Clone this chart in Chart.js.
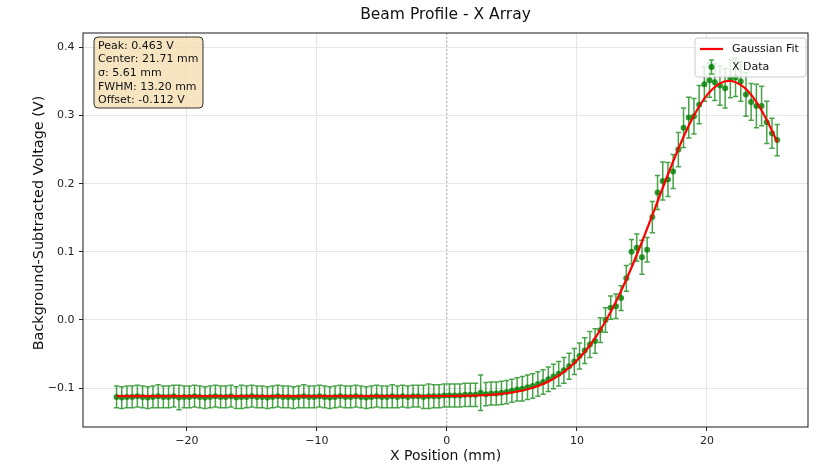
<!DOCTYPE html>
<html><head><meta charset="utf-8">
<script src="https://cdn.jsdelivr.net/npm/chart.js@4.4.0/dist/chart.umd.min.js"></script>
<style>html,body{margin:0;padding:0;background:#fff;}canvas{display:block;}</style>
</head><body>
<canvas id="c" width="816" height="468"></canvas>
<script>
const TITLE = 'Beam Profile - X Array';
const X_LABEL = 'X Position (mm)';
const Y_LABEL = 'Background-Subtracted Voltage (V)';
const LEGEND_LABELS = ['Gaussian Fit', 'X Data'];
const FIT_INFO = ['Peak: 0.463 V', 'Center: 21.71 mm', 'σ: 5.61 mm', 'FWHM: 13.20 mm', 'Offset: -0.112 V'];

const X_POS = [
-25.4,-25.0,-24.6,-24.2,-23.8,-23.4,-23.0,-22.6,-22.2,-21.8,
-21.4,-21.0,-20.6,-20.2,-19.8,-19.4,-19.0,-18.6,-18.2,-17.8,
-17.4,-17.0,-16.6,-16.2,-15.8,-15.4,-15.0,-14.6,-14.2,-13.8,
-13.4,-13.0,-12.6,-12.2,-11.8,-11.4,-11.0,-10.6,-10.2,-9.8,
-9.4,-9.0,-8.6,-8.2,-7.8,-7.4,-7.0,-6.6,-6.2,-5.8,
-5.4,-5.0,-4.6,-4.2,-3.8,-3.4,-3.0,-2.6,-2.2,-1.8,
-1.4,-1.0,-0.6,-0.2,0.2,0.6,1.0,1.4,1.8,2.2,
2.6,3.0,3.4,3.8,4.2,4.6,5.0,5.4,5.8,6.2,
6.6,7.0,7.4,7.8,8.2,8.6,9.0,9.4,9.8,10.2,
10.6,11.0,11.4,11.8,12.2,12.6,13.0,13.4,13.8,14.2,
14.6,15.0,15.4,15.8,16.2,16.6,17.0,17.4,17.8,18.2,
18.6,19.0,19.4,19.8,20.2,20.6,21.0,21.4,21.8,22.2,
22.6,23.0,23.4,23.8,24.2,24.6,25.0,25.4];

const X_VOLT = [
-0.113,-0.114,-0.113,-0.113,-0.112,-0.113,-0.114,-0.113,-0.112,-0.113,
-0.113,-0.112,-0.114,-0.113,-0.113,-0.112,-0.113,-0.114,-0.113,-0.112,
-0.113,-0.113,-0.112,-0.114,-0.113,-0.113,-0.112,-0.113,-0.113,-0.114,
-0.113,-0.112,-0.113,-0.113,-0.114,-0.113,-0.112,-0.113,-0.113,-0.112,
-0.113,-0.114,-0.113,-0.112,-0.113,-0.113,-0.112,-0.113,-0.114,-0.113,
-0.112,-0.113,-0.113,-0.112,-0.113,-0.112,-0.113,-0.112,-0.112,-0.113,
-0.112,-0.112,-0.112,-0.111,-0.111,-0.111,-0.111,-0.110,-0.110,-0.110,
-0.107,-0.109,-0.108,-0.108,-0.107,-0.106,-0.104,-0.102,-0.101,-0.099,
-0.097,-0.094,-0.091,-0.087,-0.083,-0.079,-0.074,-0.068,-0.061,-0.053,
-0.045,-0.036,-0.031,-0.015,0.000,0.018,0.020,0.032,0.061,0.100,
0.106,0.092,0.103,0.151,0.187,0.204,0.206,0.218,0.250,0.282,
0.297,0.299,0.316,0.346,0.352,0.349,0.344,0.340,0.354,0.356,
0.350,0.331,0.320,0.314,0.314,0.290,0.274,0.264];

const X_ERR = [
0.016,0.016,0.016,0.016,0.016,0.016,0.016,0.016,0.017,0.016,
0.016,0.016,0.018,0.016,0.016,0.016,0.016,0.016,0.016,0.016,
0.016,0.016,0.016,0.016,0.017,0.016,0.016,0.016,0.016,0.016,
0.016,0.016,0.016,0.016,0.016,0.016,0.017,0.016,0.016,0.016,
0.016,0.016,0.016,0.016,0.016,0.016,0.016,0.016,0.016,0.016,
0.016,0.016,0.016,0.017,0.016,0.016,0.016,0.016,0.016,0.017,
0.018,0.017,0.017,0.017,0.017,0.017,0.017,0.017,0.017,0.017,
0.026,0.017,0.017,0.017,0.017,0.017,0.017,0.017,0.018,0.018,
0.018,0.018,0.018,0.018,0.018,0.018,0.019,0.019,0.019,0.019,
0.019,0.019,0.018,0.018,0.018,0.017,0.018,0.018,0.019,0.018,
0.020,0.025,0.018,0.023,0.025,0.028,0.025,0.025,0.025,0.029,
0.030,0.026,0.028,0.025,0.025,0.027,0.029,0.029,0.028,0.028,
0.029,0.032,0.027,0.032,0.029,0.031,0.022,0.023];

const FIT_X = [-25.4,-20,-15,-10,-5,-2,0,1,2,3,4,5,6,7,8,9,10,11,12,13,14,15,16,17,18,19,20,21,21.7,22,23,24,25,25.4];
const FIT_Y = [-0.1120,-0.1120,-0.1120,-0.1120,-0.1120,-0.1119,-0.1117,-0.1115,-0.1110,-0.1102,-0.1088,-0.1065,-0.1028,-0.0971,-0.0886,-0.0764,-0.0596,-0.0372,-0.0085,0.0267,0.0681,0.1144,0.1638,0.2135,0.2601,0.3000,0.3300,0.3473,0.3510,0.3504,0.3389,0.3140,0.2779,0.2609];

const X_TICKS = [-20, -10, 0, 10, 20];
const Y_TICKS = [-0.1, 0.0, 0.1, 0.2, 0.3, 0.4];

const FONT = "'DejaVu Sans', sans-serif";
const toMinus = s => s.replace('-', '\u2212');
const fmtX = v => toMinus(String(Math.round(v)));
const fmtY = v => { let r = Math.round(v * 10) / 10; if (Math.abs(r) < 1e-9) r = 0; return toMinus(r.toFixed(1)); };

function rr(ctx, x, y, w, h, r) {
  ctx.beginPath();
  ctx.moveTo(x + r, y); ctx.lineTo(x + w - r, y); ctx.arcTo(x + w, y, x + w, y + r, r);
  ctx.lineTo(x + w, y + h - r); ctx.arcTo(x + w, y + h, x + w - r, y + h, r);
  ctx.lineTo(x + r, y + h); ctx.arcTo(x, y + h, x, y + h - r, r);
  ctx.lineTo(x, y + r); ctx.arcTo(x, y, x + r, y, r); ctx.closePath();
}

const errorBars = {
  id: 'errorBars',
  beforeDatasetsDraw(chart) {
    const { ctx, chartArea: a, scales: { x, y } } = chart;
    ctx.save();
    ctx.beginPath(); ctx.rect(a.left, a.top, a.right - a.left, a.bottom - a.top); ctx.clip();
    const x0 = x.getPixelForValue(0);
    ctx.strokeStyle = 'rgba(110,110,110,0.6)'; ctx.lineWidth = 1; ctx.setLineDash([1.5, 2.5]);
    ctx.beginPath(); ctx.moveTo(x0, a.top); ctx.lineTo(x0, a.bottom); ctx.stroke();
    ctx.setLineDash([]);
    ctx.strokeStyle = 'rgba(0,128,0,0.72)'; ctx.lineWidth = 1.5;
    for (let i = 0; i < X_POS.length; i++) {
      const px = x.getPixelForValue(X_POS[i]);
      const t = y.getPixelForValue(X_VOLT[i] + X_ERR[i]);
      const b = y.getPixelForValue(X_VOLT[i] - X_ERR[i]);
      ctx.beginPath();
      ctx.moveTo(px, t); ctx.lineTo(px, b);
      ctx.moveTo(px - 2.6, t); ctx.lineTo(px + 2.6, t);
      ctx.moveTo(px - 2.6, b); ctx.lineTo(px + 2.6, b);
      ctx.stroke();
    }
    ctx.restore();
  }
};

const overlays = {
  id: 'overlays',
  afterDraw(chart) {
    const { ctx, chartArea: a } = chart;
    ctx.save();
    // frame
    ctx.strokeStyle = '#1a1a1a'; ctx.lineWidth = 1;
    ctx.strokeRect(a.left, a.top, a.right - a.left, a.bottom - a.top);
    // y-axis title
    ctx.save();
    ctx.translate(39, (a.top + a.bottom) / 2 - 7);
    ctx.rotate(-Math.PI / 2);
    ctx.fillStyle = '#111'; ctx.font = '14.4px ' + FONT; ctx.textAlign = 'center'; ctx.textBaseline = 'middle';
    ctx.fillText(Y_LABEL, 0, 0);
    ctx.restore();
    // info box
    const bx = a.left + 11, by = a.top + 4, bw = 109, bh = 71;
    rr(ctx, bx, by, bw, bh, 4);
    ctx.fillStyle = 'rgba(245,222,179,0.8)'; ctx.fill();
    ctx.strokeStyle = 'rgba(0,0,0,0.8)'; ctx.lineWidth = 1; ctx.stroke();
    ctx.fillStyle = '#111'; ctx.font = '11px ' + FONT; ctx.textBaseline = 'middle'; ctx.textAlign = 'left';
    FIT_INFO.forEach((t, i) => ctx.fillText(t, bx + 4, by + 9 + i * 13.6));
    // legend
    const lw = 111, lh = 39, lx = a.right - 2 - lw, ly = a.top + 5;
    rr(ctx, lx, ly, lw, lh, 3);
    ctx.fillStyle = 'rgba(255,255,255,0.8)'; ctx.fill();
    ctx.strokeStyle = '#cccccc'; ctx.lineWidth = 1; ctx.stroke();
    const y1 = ly + 11, y2 = ly + 29;
    ctx.strokeStyle = '#ff0000'; ctx.lineWidth = 2.2;
    ctx.beginPath(); ctx.moveTo(lx + 5, y1); ctx.lineTo(lx + 28, y1); ctx.stroke();
    const mx = lx + 16.5;
    ctx.strokeStyle = 'rgba(0,128,0,0.72)'; ctx.lineWidth = 1.5;
    ctx.beginPath();
    ctx.moveTo(mx, y2 - 7); ctx.lineTo(mx, y2 + 7);
    ctx.moveTo(mx - 2.6, y2 - 7); ctx.lineTo(mx + 2.6, y2 - 7);
    ctx.moveTo(mx - 2.6, y2 + 7); ctx.lineTo(mx + 2.6, y2 + 7);
    ctx.stroke();
    ctx.fillStyle = 'rgba(0,128,0,0.85)';
    ctx.beginPath(); ctx.arc(mx, y2, 3, 0, Math.PI * 2); ctx.fill();
    ctx.fillStyle = '#111'; ctx.font = '11px ' + FONT;
    ctx.fillText(LEGEND_LABELS[0], lx + 37, y1);
    ctx.fillText(LEGEND_LABELS[1], lx + 37, y2);
    ctx.restore();
  }
};

const gridCfg = { color: '#e6e6e6', lineWidth: 1, drawTicks: true, tickLength: 4, tickColor: '#222', tickWidth: 1 };

new Chart(document.getElementById('c'), {
  type: 'scatter',
  data: {
    datasets: [
      {
        label: LEGEND_LABELS[0],
        data: FIT_X.map((v, i) => ({ x: v, y: FIT_Y[i] })),
        showLine: true, borderColor: '#ff0000', borderWidth: 2.2, pointRadius: 0,
        cubicInterpolationMode: 'monotone', fill: false
      },
      {
        label: LEGEND_LABELS[1],
        data: X_POS.map((v, i) => ({ x: v, y: X_VOLT[i] })),
        showLine: false, pointRadius: 3, pointBackgroundColor: 'rgba(0,128,0,0.8)',
        pointBorderWidth: 0, borderColor: 'rgba(0,0,0,0)'
      }
    ]
  },
  options: {
    responsive: false, animation: false, devicePixelRatio: 1,
    layout: { padding: { left: 0, right: 8, top: 0, bottom: 0 } },
    plugins: {
      legend: { display: false },
      tooltip: { enabled: false },
      title: {
        display: true, text: TITLE, fullSize: false, color: '#111',
        font: { family: FONT, size: 15.5, weight: 'normal' },
        padding: { top: 5.4, bottom: 9 }
      }
    },
    scales: {
      x: {
        type: 'linear', min: -27.98, max: 27.77,
        afterBuildTicks: s => { s.ticks = X_TICKS.map(v => ({ value: v })); },
        afterFit: s => { s.height = 41; },
        grid: gridCfg, border: { display: false },
        ticks: { color: '#222', font: { family: FONT, size: 11 }, padding: 3.5, maxRotation: 0, autoSkip: false, callback: v => fmtX(v) },
        title: { display: true, text: X_LABEL, color: '#111', font: { family: FONT, size: 14 }, padding: { top: 0, bottom: 3.6 } }
      },
      y: {
        type: 'linear', min: -0.1572, max: 0.4212,
        afterBuildTicks: s => { s.ticks = Y_TICKS.map(v => ({ value: v })); },
        afterFit: s => { s.width = 83; },
        grid: gridCfg, border: { display: false },
        ticks: { color: '#222', font: { family: FONT, size: 11 }, padding: 4.5, autoSkip: false, callback: v => fmtY(v) },
        title: { display: false, text: Y_LABEL }
      }
    }
  },
  plugins: [errorBars, overlays]
});
</script>
</body></html>
